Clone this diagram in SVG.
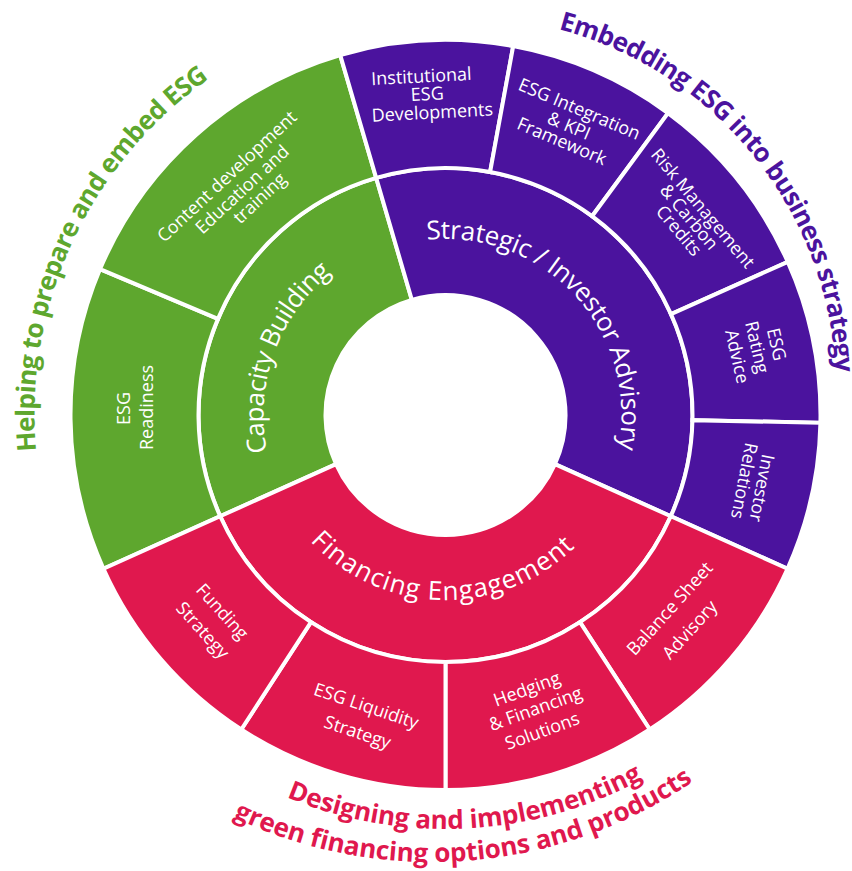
<svg xmlns="http://www.w3.org/2000/svg" xmlns:xlink="http://www.w3.org/1999/xlink" width="852" height="871" viewBox="0 0 852 871">
<style>
.seg{stroke:#fff;stroke-width:4;stroke-linejoin:miter}
.g{fill:#5EA72E}.p{fill:#4B139E}.r{fill:#E0184E}
.lbl{font-family:"Open Sans","Liberation Sans",sans-serif;font-size:18px;fill:#fff;text-anchor:middle}
.mid{font-family:"Open Sans","Liberation Sans",sans-serif;font-size:26px;fill:#fff;text-anchor:middle}
.ttl{font-family:"Open Sans","Liberation Sans",sans-serif;font-size:26px;font-weight:700;text-anchor:middle}
</style>
<defs>
<path id="arcCap" d="M355.19,573.01 A182,182 0 0 1 476.31,235.62"/>
<path id="arcStr" d="M350.94,266.56 A176,176 0 0 1 585.14,522.15"/>
<path id="arcFin" d="M262.63,442.99 A185,185 0 0 0 626.91,451.24"/>
<path id="arcHelp" d="M210.04,751.86 A411,411 0 0 1 551.54,17.89"/>
<path id="arcEmb" d="M281.25,63.06 A374,374 0 0 1 743.85,636.37"/>
<path id="arcDes" d="M42.02,507.78 A414,414 0 0 0 856.35,465.8"/>
<path id="arcGreen" d="M-17.34,513.77 A464,464 0 0 0 893.82,442.87"/>
</defs>
<rect width="852" height="871" fill="#fff"/>

<g id="capacity-building">
<path class="seg g" d="M220.21,516.25 A247,247 0 0 1 376.17,177.93 L411.82,299.82 A120,120 0 0 0 336.05,464.19 Z"/>
<text class="mid"><textPath href="#arcCap" xlink:href="#arcCap" startOffset="50%" textLength="200">Capacity Building</textPath></text>
</g>
<g id="strategic-investor-advisory">
<path class="seg p" d="M376.17,177.93 A247,247 0 0 1 670.79,516.25 L554.95,464.19 A120,120 0 0 0 411.82,299.82 Z"/>
<text class="mid"><textPath href="#arcStr" xlink:href="#arcStr" startOffset="50%" textLength="329">Strategic / Investor Advisory</textPath></text>
</g>
<g id="financing-engagement">
<path class="seg r" d="M670.79,516.25 A247,247 0 0 1 220.21,516.25 L336.05,464.19 A120,120 0 0 0 554.95,464.19 Z"/>
<text class="mid"><textPath href="#arcFin" xlink:href="#arcFin" startOffset="50%" textLength="295">Financing Engagement</textPath></text>
</g>

<g id="esg-readiness">
<path class="seg g" d="M103.46,568.71 A375,375 0 0 1 100.05,269.09 L217.96,318.89 A247,247 0 0 0 220.21,516.25 Z"/>
<text class="lbl" transform="translate(130,408.5) rotate(-90)"><tspan x="0" y="0">ESG</tspan><tspan x="1" y="23.3">Readiness</tspan></text>
</g>
<g id="content-development">
<path class="seg g" d="M100.05,269.09 A375,375 0 0 1 340.24,55.07 L376.17,177.93 A247,247 0 0 0 217.96,318.89 Z"/>
<text class="lbl" transform="translate(231.1,180.9) rotate(-43)"><tspan x="0" y="0">Content development</tspan><tspan x="2.3" y="20">Education and</tspan><tspan x="9" y="38.3">training</tspan></text>
</g>
<g id="institutional-esg">
<path class="seg p" d="M340.24,55.07 A375,375 0 0 1 513.19,46.15 L490.08,172.05 A247,247 0 0 0 376.17,177.93 Z"/>
<text class="lbl" transform="translate(421.7,82.5) rotate(-3)"><tspan x="0" y="0">Institutional</tspan><tspan x="4.9" y="17.9">ESG</tspan><tspan x="9" y="36.6">Developments</tspan></text>
</g>
<g id="esg-integration">
<path class="seg p" d="M513.19,46.15 A375,375 0 0 1 668.03,113.16 L592.07,216.19 A247,247 0 0 0 490.08,172.05 Z"/>
<text class="lbl" transform="translate(577,114.7) rotate(23)"><tspan x="0" y="0">ESG Integration</tspan><tspan x="-3" y="19.5">&amp; KPI</tspan><tspan x="-3.5" y="36.5">Framework</tspan></text>
</g>
<g id="risk-management">
<path class="seg p" d="M668.03,113.16 A375,375 0 0 1 787.8,261.89 L670.96,314.15 A247,247 0 0 0 592.07,216.19 Z"/>
<text class="lbl" transform="translate(698.2,212.4) rotate(50)"><tspan x="0" y="0">Risk Management</tspan><tspan x="-2.4" y="16">&amp; Carbon</tspan><tspan x="1.4" y="32.7">Credits</tspan></text>
</g>
<g id="esg-rating">
<path class="seg p" d="M787.8,261.89 A375,375 0 0 1 820.43,422.84 L692.45,420.16 A247,247 0 0 0 670.96,314.15 Z"/>
<text class="lbl" transform="translate(770.4,345.7) rotate(77)"><tspan x="0" y="0">ESG</tspan><tspan x="-1.5" y="19.5">Rating</tspan><tspan x="3" y="41">Advice</tspan></text>
</g>
<g id="investor-relations">
<path class="seg p" d="M820.43,422.84 A375,375 0 0 1 787.54,568.71 L670.79,516.25 A247,247 0 0 0 692.45,420.16 Z"/>
<text class="lbl" transform="translate(755.8,486.9) rotate(101)"><tspan x="0" y="0">Investor</tspan><tspan x="-3.8" y="18.6">Relations</tspan></text>
</g>
<g id="balance-sheet">
<path class="seg r" d="M787.54,568.71 A375,375 0 0 1 649.73,729.51 L580.02,622.16 A247,247 0 0 0 670.79,516.25 Z"/>
<text class="lbl" transform="translate(674.3,612.7) rotate(-48)"><tspan x="0" y="0">Balance Sheet</tspan><tspan x="-2.5" y="29">Advisory</tspan></text>
</g>
<g id="hedging">
<path class="seg r" d="M649.73,729.51 A375,375 0 0 1 445.5,790 L445.5,662 A247,247 0 0 0 580.02,622.16 Z"/>
<text class="lbl" transform="translate(528.9,694.8) rotate(-20)"><tspan x="0" y="0">Hedging</tspan><tspan x="1.5" y="21.5">&amp; Financing</tspan><tspan x="0.2" y="44.7">Solutions</tspan></text>
</g>
<g id="esg-liquidity">
<path class="seg r" d="M445.5,790 A375,375 0 0 1 241.27,729.51 L310.98,622.16 A247,247 0 0 0 445.5,662 Z"/>
<text class="lbl" transform="translate(364.3,711.7) rotate(18.5)"><tspan x="0" y="0">ESG Liquidity</tspan><tspan x="0" y="27.7">Strategy</tspan></text>
</g>
<g id="funding-strategy">
<path class="seg r" d="M241.27,729.51 A375,375 0 0 1 103.46,568.71 L220.21,516.25 A247,247 0 0 0 310.98,622.16 Z"/>
<text class="lbl" transform="translate(217.7,615.7) rotate(48)"><tspan x="0" y="0">Funding</tspan><tspan x="0.7" y="27">Strategy</tspan></text>
</g>

<g id="title-capacity">
<text class="ttl" fill="#5EA72E"><textPath href="#arcHelp" xlink:href="#arcHelp" startOffset="50%" textLength="430">Helping to prepare and embed ESG</textPath></text>
</g>
<g id="title-strategic">
<text class="ttl" fill="#4B139E"><textPath href="#arcEmb" xlink:href="#arcEmb" startOffset="50%" textLength="472">Embedding ESG into business strategy</textPath></text>
</g>
<g id="title-financing">
<text class="ttl" fill="#E0184E"><textPath href="#arcDes" xlink:href="#arcDes" startOffset="50%" textLength="369">Designing and implementing</textPath></text>
<text class="ttl" fill="#E0184E"><textPath href="#arcGreen" xlink:href="#arcGreen" startOffset="50%" textLength="483">green financing options and products</textPath></text>
</g>
</svg>
